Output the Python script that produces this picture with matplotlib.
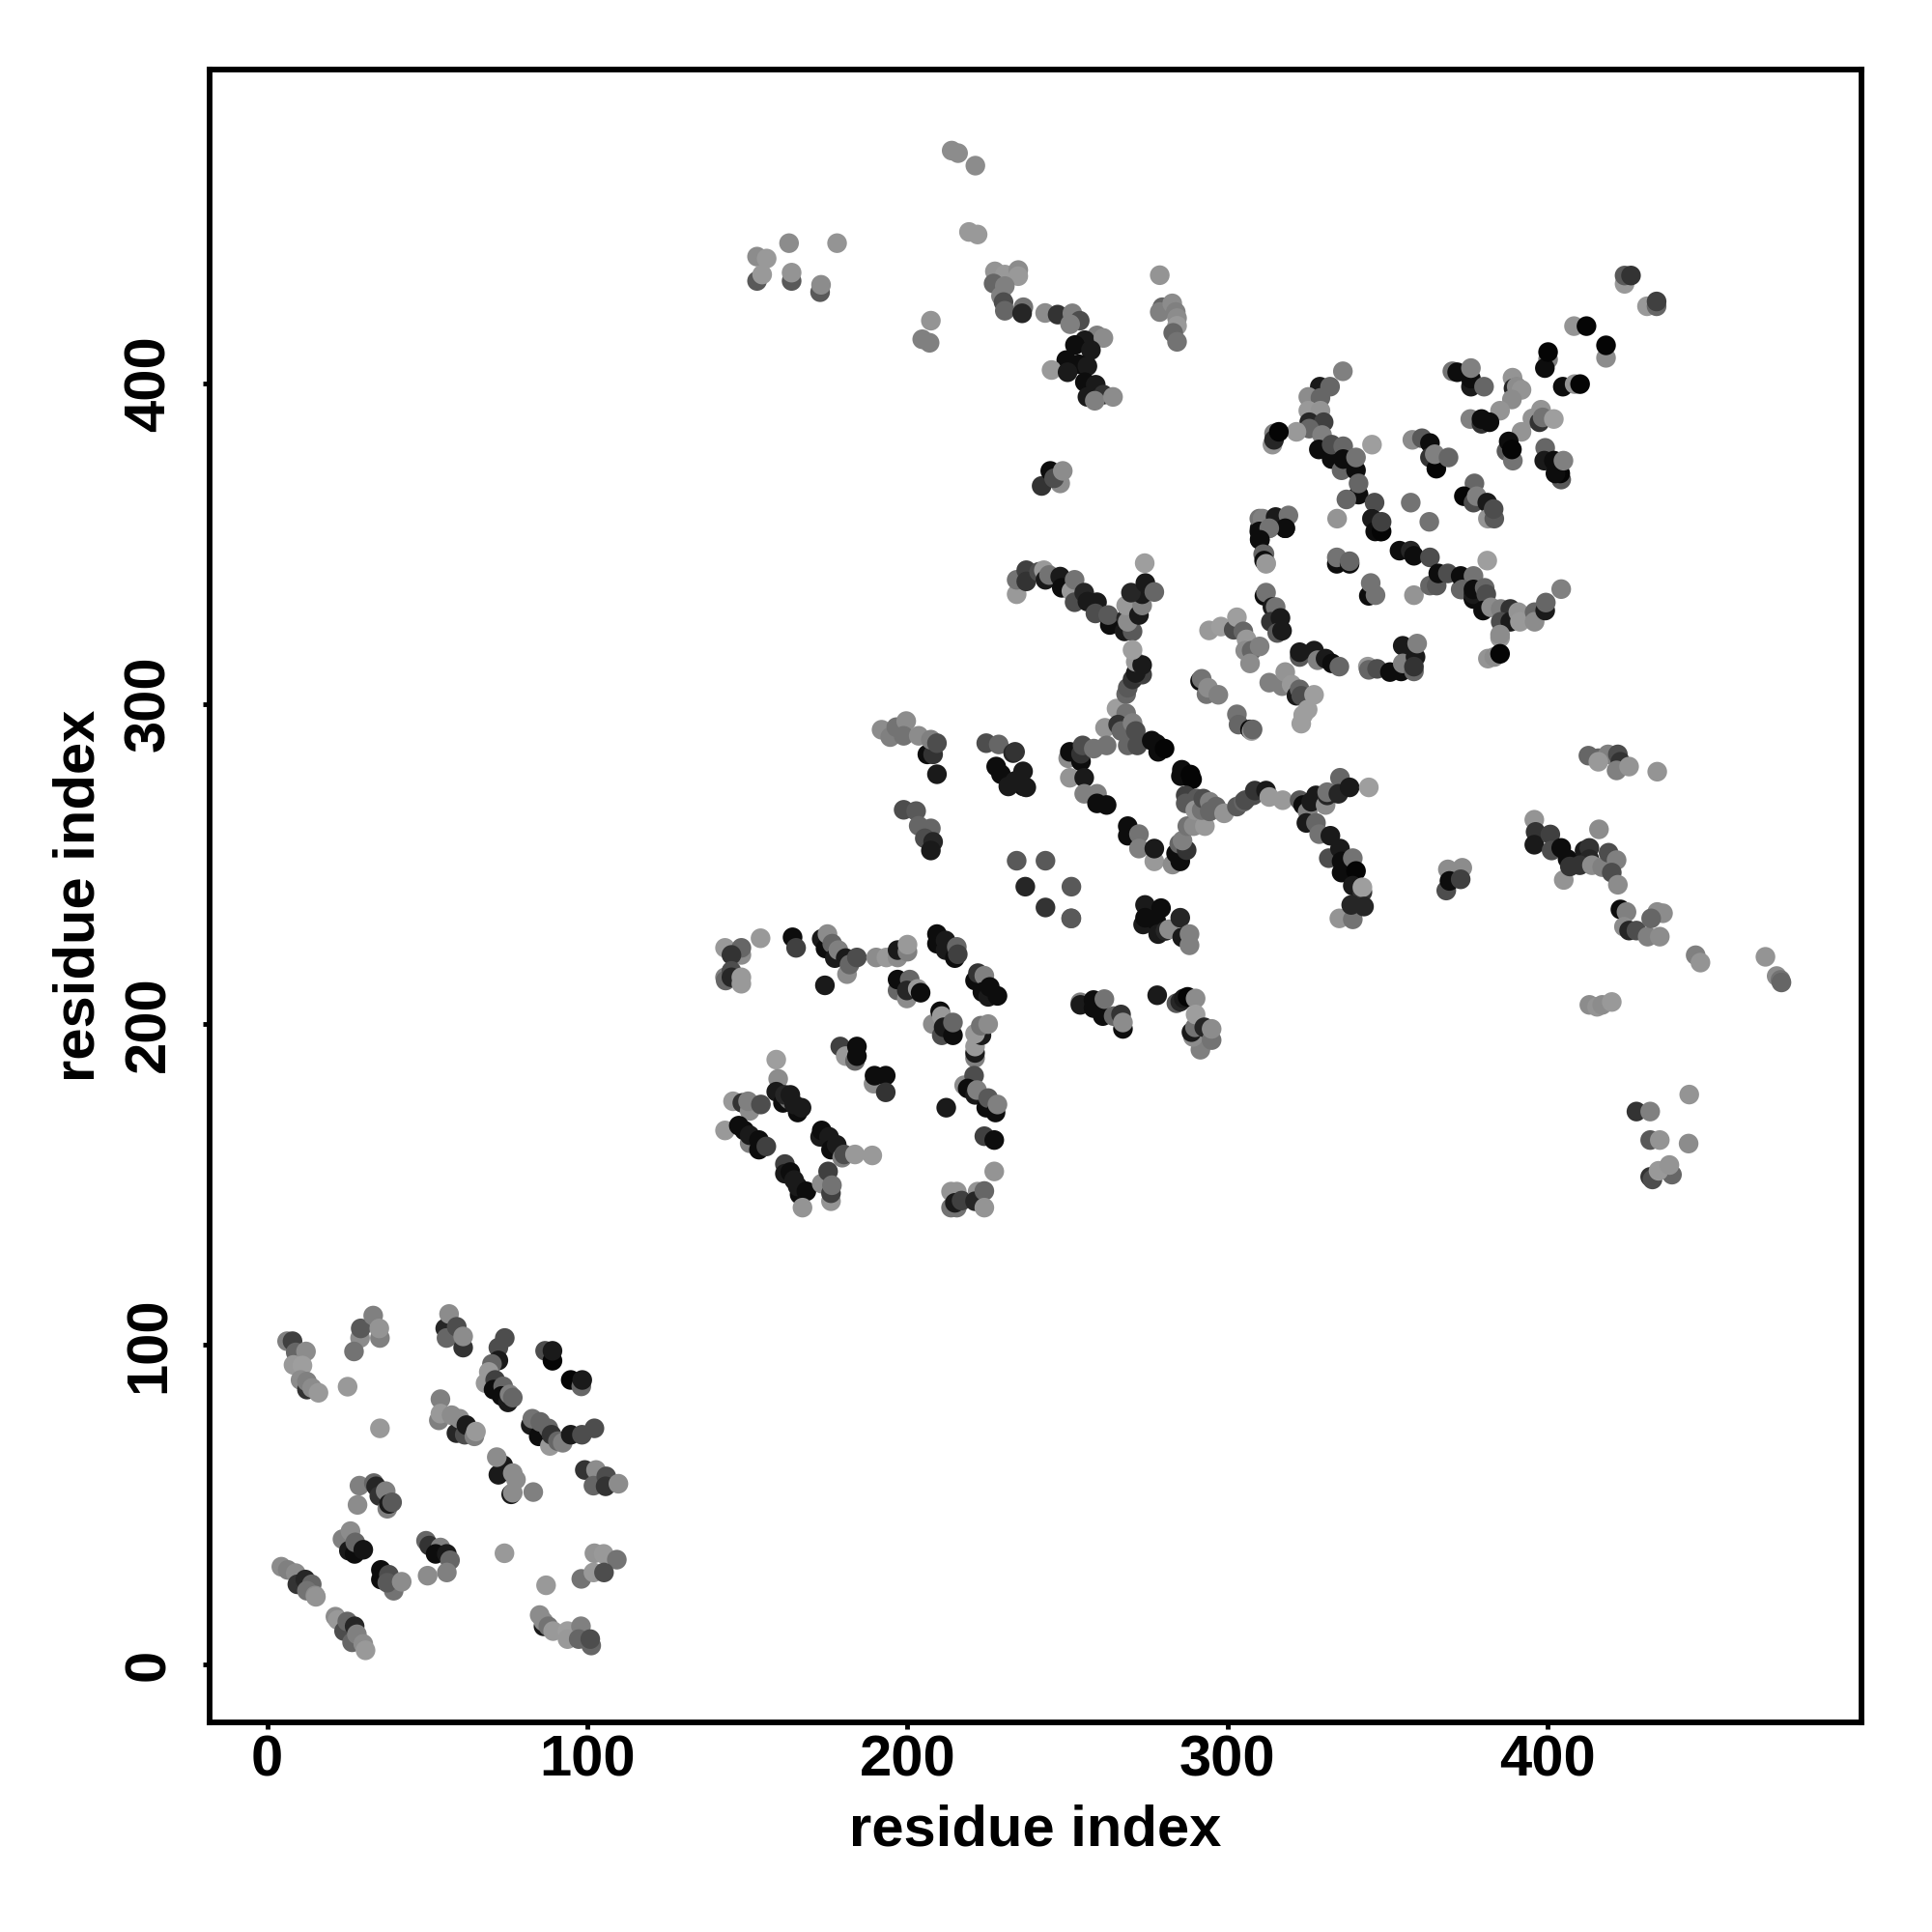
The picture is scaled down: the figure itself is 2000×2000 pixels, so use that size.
import matplotlib
matplotlib.use('Agg')
import matplotlib.pyplot as plt
import numpy as np

plt.rcParams['font.family'] = ['Liberation Sans', 'DejaVu Sans']
plt.rcParams['font.weight'] = 'bold'

#residue pairs in contact as (i, j, grey level)
low_pairs = [
    (6.2,101,.5),(7.9,101,.25),(8.9,97.5,.4),(12.1,97.8,.55),(8.2,93.6,.6),(11,93.4,.62),(10.4,88.9,.55),(12.4,85.9,.2),(12.4,88.4,.5),(14,86.4,.55),(16,84.9,.6),
    (25.1,86.8,.6),(29,102,.55),(29.2,105,.35),(33.1,109,.5),(35.2,102,.5),(35,105,.58),(27.1,97.8,.45),(35.2,73.8,.6),
    (55.6,105,.15),(56,102,.4),(61.2,99,.2),(56.8,109.5,.55),(59.2,105.5,.3),(61.2,102.5,.55),(54.1,82.9,.5),
    (53.6,76.3,.5),(54.1,78.4,.6),(59.1,72.3,.15),(57.6,77.9,.55),(60.1,76.8,.55),(61.7,71.8,.3),(62.2,74.8,.1),(64.7,71.3,.5),(65.2,72.8,.6),
    (74.2,102,.3),(72.2,99,.3),(72.2,95,.1),(70.2,93.9,.4),(69.2,91.4,.6),(68.2,87.9,.6),(71.2,88.9,.25),(70.7,85.9,.05),(73.7,86.9,.4),(73.2,83.9,.05),(75.2,81.9,.1),(75.7,84.4,.5),(76.7,83.4,.4),
    (86.8,98,.3),(89.1,94.9,.02),(89.1,98,.1),(94.8,88.9,.02),(98.1,86.9,.4),(98.4,88.9,.1),
    (82.3,74.8,.1),(82.8,76.8,.45),(84.8,71.3,.05),(85.3,75.8,.4),(88.3,68.3,.6),(87.8,73.8,.4),(88.8,71.8,.2),(90.8,69.8,.4),(92.3,69.3,.5),(94.8,71.8,.1),(98.3,71.8,.3),(102.2,73.8,.3),
    (72.2,59.3,.1),(73.7,62.3,.1),(71.7,64.8,.55),(76.2,53.2,.1),(76.7,59.8,.55),(77.7,57.8,.55),(76.7,53.7,.55),(83.1,53.9,.5),
    (99.2,60.8,.2),(102.7,60.8,.55),(101.9,55.9,.4),(105.9,58.8,.3),(105.7,55.7,.2),(109.7,56.5,.55),
    (28.8,55.9,.5),(28.2,49.9,.55),(33.3,56.7,.4),(34,55.7,.15),(35,52.7,.2),(37,54.2,.5),(37.5,48.7,.5),(38,50.2,.1),(39,50.7,.35),
    (23.5,39.2,.5),(25.5,35.6,.1),(27.3,34.6,.05),(26,41.7,.55),(27.5,38.2,.4),(30,35.9,.08),
    (35.5,29.6,.05),(35.5,26.6,.05),(39.5,23.1,.45),(38,28.1,.3),(37.5,25.6,.35),(42,25.9,.55),
    (49.6,38.7,.4),(50.6,37.2,.2),(54.1,36.6,.5),(52.6,34.6,.05),(56.1,34.6,.1),(57.1,32.6,.4),(50.1,27.8,.55),(56.1,28.8,.5),
    (74.1,34.8,.6),(87.1,24.8,.6),(102.2,34.8,.58),(105.1,34.6,.6),(109.2,32.8,.45),(98.1,26.8,.45),(101.9,28.8,.6),(105.2,28.8,.3),
    (4.4,30.6,.55),(6.4,29.6,.5),(8.9,28.6,.55),(9.4,25.1,.2),(11.9,26.6,.15),(13.9,25.1,.4),(12.4,23.1,.45),(15,21.6,.55),(15.2,21.2,.58),
    (21.3,15,.55),(22,14,.6),(24,10.5,.3),(25,13.5,.4),(27.3,12,.15),(26.5,7,.4),(28,9.5,.5),(30,6.5,.55),(30.7,4.5,.6),
    (86.3,12,.1),(85.1,15.5,.55),(86.3,13.5,.55),(87.8,12,.45),(89.3,10.5,.6),(93.8,10.5,.62),(98,12,.5),(93.8,8,.6),(97.3,8,.4),(101.2,6,.4),(100.9,8,.3),
]

mid_pairs = [
    (143,223.8,.6),(148.1,221.6,.55),(148.1,223.8,.4),(145,221.6,.2),(143,214.6,.5),(143.2,213.6,.4),(145,216.6,.3),(145,214.6,.15),(148.1,214.6,.6),(148.1,212.6,.6),
    (154.1,226.8,.6),(164.1,227.1,.05),(165.2,223.8,.25),(174.2,212.1,.1),
    (173.2,226.6,.1),(174.4,223.6,.05),(175,228.1,.55),(176.5,225.1,.4),(177.3,220.6,.1),(178.4,223.1,.5),(181.1,215.6,.55),(180.7,220.6,.1),(181.9,218.6,.4),(184.2,220.8,.3),
    (190.2,220.8,.55),(193.4,220.8,.6),(196.9,220.8,.55),(196.9,223.1,.1),(200,222.6,.5),(200,224.8,.6),
    (196.9,210.5,.4),(199.8,208,.55),(196.9,213.9,.05),(200.7,213.9,.4),(199.8,210.5,.15),(203.2,211,.6),(204.1,209.8,.05),
    (209.2,225.1,.05),(209.2,228.1,.05),(211.9,223.1,.1),(211.9,226.1,.1),(214.8,220.6,.05),(215.4,224.1,.4),(215.7,221.8,.25),
    (221.1,213.6,.05),(222,215.9,.2),(224,215.1,.5),(223.4,210,.05),(225.2,208.5,.1),(225.7,211.6,.05),(228.1,208.8,.05),
    (207.9,200,.55),(210.2,204,.05),(210.7,202.5,.6),(210.7,196.5,.3),(211.3,199,.1),(214.2,196.5,.05),(214.2,200.5,.4),
    (221.1,189.4,.5),(221.1,191,.1),(221.1,193,.6),(223.1,196.5,.1),(221.1,197,.6),(222.9,199.5,.45),(225.2,200,.55),
    (179,193,.25),(180.7,190,.6),(183.6,188.5,.4),(184.2,193,.05),(184.2,190,.05),(189.4,181.4,.55),(189.7,183.9,.05),(193.2,183.9,.05),(193.2,178.7,.2),
    (159,188.9,.62),(159.6,182.9,.55),(159,178.9,.1),(161.1,175.4,.05),(163,176.5,.45),(161.7,177.9,.15),(163.4,177.9,.1),(165.7,172.4,.05),(164.6,174.9,.1),(166.9,173.9,.1),
    (145.5,175.9,.6),(148.4,175.4,.2),(150.7,172.9,.55),(150.2,175.9,.5),(154.2,174.9,.3),
    (143,166.8,.6),(147.3,168.3,.05),(149,166.8,.05),(150.7,162.8,.5),(150.7,165.3,.1),(153.6,160.8,.05),(153.6,163.8,.05),(155.9,161.8,.25),
    (172.7,164.8,.1),(173.2,166.8,.05),(175.5,164.8,.1),(176.1,160.8,.05),(177.9,162.3,.1),(179.6,158.3,.5),(180.2,159.3,.3),(183.6,159.3,.6),(189,159,.6),
    (161.7,156.3,.25),(161.7,153.3,.1),(163.4,153.8,.05),(164.6,151.3,.1),(166.3,146.8,.05),(165.7,149.3,.1),(168.4,147.8,.05),(167.2,142.7,.58),
    (173.2,150.2,.55),(175.2,154,.25),(176.1,144.7,.58),(176.1,147.2,.25),(176.4,149.7,.45),
    (227.1,154,.58),(224,165,.25),(227.1,163.8,.05),(212.1,173.9,.1),
    (217.7,180.9,.55),(220.8,183.9,.3),(218.8,179.9,.05),(221.1,177.9,.1),(221.7,179.4,.5),(224.6,173.9,.05),(225.2,176.9,.35),(227.5,172.4,.05),(228.1,174.9,.5),
    (213.6,147.7,.58),(215.4,147.7,.58),(213.6,142.7,.45),(215.4,142.7,.45),(214.8,144.2,.1),(216.9,144.9,.25),(221.9,147.7,.58),(221.1,144.7,.15),(224,147.9,.4),(224,142.7,.58),
    (243.1,236.4,.2),(251.1,233,.35),
    (273.6,231.1,.1),(274.2,237.2,.1),(274.2,233.2,.05),(277.7,232.2,.05),(279.2,236.2,.05),(278.3,228.1,.1),(280.6,229.1,.15),(281.7,229.6,.55),(285.2,233.2,.15),(285.8,227.1,.1),(288.1,224.6,.5),(288.1,228.1,.5),
    (254,206.8,.5),(254,206,.1),(258.1,207.5,.05),(258.1,205,.05),(261,202.5,.05),(261.5,207.8,.45),(264.4,202.5,.4),(267.3,198.5,.05),(266.7,203,.2),(267.3,200.5,.55),
    (278,209,.1),(284,206.5,.35),(285.2,207,.15),(286.3,208,.1),(287.5,208.5,.02),(290,208,.55),
    (291.5,192,.5),(289.2,196,.55),(288.7,197.5,.1),(289.8,199,.45),(290,203,.62),(292.7,199,.15),(295,195,.45),(295,198.5,.55),
]

#the two groups above the mid block, near (200, 290) and (205, 260), and the one near (230, 280)
gap_pairs = [
    (191.9,291.9,.55),(194.6,289.6,.5),(196.5,292.7,.45),(199.6,294.6,.55),(198.8,290,.45),(203.5,290,.55),(206.2,284.2,.05),(208,284.2,.2),(207.3,288.8,.5),(209.2,287.7,.3),(209.2,278,.1),
    (198.8,266.9,.3),(202.7,266.5,.35),(203.5,261.9,.4),(207.3,261.1,.4),(205.4,258,.3),(208,256.9,.15),(207.3,254.2,.1),
    (224.6,287.7,.3),(228.5,287.3,.4),(233,284.6,.15),(227.7,280.4,.05),(229.2,278,.05),(236.2,274.2,.05),(231.5,274.2,.1),
]

centre_pairs = [
    (234.1,334.2,.6),(234.1,338.7,.45),(237.1,341.7,.25),(237.1,338.2,.2),(241.1,341.2,.3),(242.6,341.7,.6),(243.1,338.7,.1),(244.2,340.2,.45),(247.7,339.7,.1),(248.2,336.2,.05),(251.2,335.2,.6),(252.2,338.7,.45),
    (252.2,331.7,.3),(255.2,334.7,.15),(256.2,331.9,.1),(259.2,331.7,.1),(258.7,328.2,.3),(263.2,324.6,.05),(262.7,327.7,.35),(268.3,326.7,.15),(267.8,322.6,.1),(270.3,322.6,.35),(268.8,325.6,.55),(268.3,330.7,.6),
    (272.3,327.7,.1),(273.3,330.7,.5),(273.3,334.2,.1),(269.8,334.7,.15),(274.3,337.7,.1),(277.1,334.9,.4),(274.1,343.9,.62),
    (310,354.8,.1),(313,354.8,.4),(318,354.8,.1),(310,351.3,.05),(311.5,346.8,.4),(312,343.9,.62),
    (334.1,343.7,.05),(334.1,345.7,.45),(338.1,343.7,.05),(338.1,344.5,.4),(344.1,333.7,.05),(344.7,337.7,.45),(346.2,333.9,.45),(358.2,333.9,.58),(347.7,355.8,.2),(347.7,353.8,.05),
    (353.7,347.8,.05),(357.2,347.8,.15),(358.2,346.2,.05),(363.2,345.7,.3),(363.2,336.9,.4),(365.3,336.9,.35),(365.8,340.7,.05),(368.8,340.7,.3),(372.8,335.7,.4),(372.8,339.9,.05),(376.3,334.2,.05),(376.8,339.9,.45),
    (311.5,333.7,.05),(312,334.7,.45),(314,330.2,.1),(315,330.2,.45),(313.5,325.6,.2),(316.5,326.8,.1),(315.5,322.1,.35),(317,322.8,.1),
    (294.2,322.9,.6),(297.9,324.1,.62),(301.9,323.1,.3),(302.9,327,.62),(304.9,322.6,.4),(305.9,320.1,.6),(305.5,316.6,.55),(307.5,316.6,.4),(310,317.9,.5),(307,312.6,.55),
    (291.4,307.1,.05),(291.9,307.8,.45),(293.4,303,.45),(293.9,305,.55),(297.1,302.8,.5),(302.9,296.7,.45),(303.4,293.5,.4),(307,292,.05),(307.5,291.5,.62),(307.8,292,.4),
    (313,306.6,.5),(317,305.5,.5),(318,309.9,.58),(320,306,.6),(321.5,302.5,.1),(322.5,304.5,.4),(323,302.5,.3),(327,302.8,.62),(325,298.2,.62),(323.6,296.5,.62),(323,293.8,.62),
    (322.5,314.6,.35),(322.5,316.1,.1),(327,316.6,.1),(328.1,313.6,.5),(330.6,314.1,.1),(332.6,312.6,.05),(334.9,311.6,.4),
    (343.8,311.6,.6),(344.1,310.6,.4),(346.7,310.9,.3),(350.7,309.9,.05),(354.2,310.1,.05),(354.7,318.1,.1),(354.7,312.6,.5),(358.7,314.6,.1),(358.2,310.1,.4),(358.2,311.6,.2),(359.2,318.8,.5),
    (265.3,298.5,.62),(268.3,297,.45),(268.3,303,.4),(268.8,305,.35),(270.3,307.6,.2),(273.3,309.1,.25),(271.3,309.6,.1),(271.3,313.1,.6),(273.3,312.1,.1),(270.3,316.8,.62),
    (261.7,292.5,.58),(262.2,287,.45),(265.8,293.5,.2),(266.8,291.5,.4),(270.3,294,.5),(268.8,287,.4),(271.3,291.5,.3),(271.8,287,.3),
    (276.3,288.5,.05),(277.8,287.5,.05),(278.3,285,.05),(280.3,286,.02),
    (250.2,283,.55),(250.7,285,.05),(254.2,282,.05),(254.2,284.4,.2),(254.7,287,.3),(258.2,286,.45),
    (250.7,276.9,.58),(255.2,276.9,.1),(255.2,271.9,.5),(259.2,271.9,.5),(259.2,268.9,.05),(262.2,268.4,.05),
    (268.8,261.8,.05),(268.8,258.8,.05),(272.3,259.3,.45),(272.3,254.8,.5),(277.1,250.8,.6),(277.1,254.8,.1),
    (282.8,249.8,.55),(283.9,253.3,.05),(285.2,250.8,.05),(284.9,256.3,.4),(287.2,254.3,.2),(285.9,257.3,.5),(287.4,261.8,.45),(289.4,261.8,.55),(292.9,261.8,.6),
    (285.7,279.4,.05),(285.4,277.4,.05),(288.4,277.9,.02),(288.9,276.4,.02),
    (286.9,271.4,.25),(286.9,268.9,.35),(290.4,270.4,.35),(289.9,266.8,.58),(291.9,266.8,.45),(292.4,270.4,.3),(294.4,269.4,.5),(294.4,266.4,.4),(296.4,267.9,.4),(298.9,265.8,.58),
    (302.9,267.9,.35),(305,269.4,.4),(305.5,269.9,.3),(308,271.4,.3),(308.5,272.9,.2),(312,272.9,.1),(313,270.9,.6),(317.2,269.9,.6),
    (322.5,269.9,.35),(323.6,268.4,.05),(325,266.3,.5),(326.1,269.4,.1),(327.6,271.4,.1),(330.6,268.4,.55),(331.1,271.4,.15),(331.1,272.4,.45),(335.1,276.9,.4),(334.6,271.9,.15),(338.1,273.9,.1),(344.1,273.9,.62),
    (324.6,262.8,.1),(327.6,262.8,.4),(328.6,259.3,.45),(332.1,258.8,.1),(331.6,251.8,.3),(335.1,254.8,.1),(335.6,250.8,.05),(335.6,247.3,.05),(339.1,251.8,.45),(340.1,247.8,.02),(339.1,243.2,.1),(342.1,241.2,.2),(342.1,242.7,.62),
    (334.9,233,.58),(339.1,232.7,.45),(338.6,237.2,.15),(342.6,236.7,.15),
    (368.8,248.3,.55),(373.3,248.8,.55),(368.3,241.7,.3),(369.3,244.7,.05),(372.8,245.2,.25),
    (236.8,242.9,.15),(243.1,251,.35),(234.1,251,.35),(251.2,242.9,.35),(251.2,233,.35),
    (233.6,285,.2),(233.6,275.9,.1),(236.1,278.9,.1),(237.1,273.9,.1),
]

upper_pairs = [
    (424,431.1,.6),(424,433.7,.35),(426,433.7,.2),(431,424.1,.6),(434,424.1,.4),(434,425.6,.25),(408.2,417.9,.58),(412.1,417.9,.02),(418.2,408,.55),(418.2,411.9,.02),
    (400.1,407.5,.5),(399.1,404.8,.05),(400.1,409.8,.02),(404.7,399,.05),(408.4,399.8,.58),(410.1,399.8,.02),
    (370.2,403.8,.45),(371.7,403.5,.05),(376,399,.1),(376,401.5,.05),(376,404.8,.5),(380.1,399,.4),
    (389,401.8,.58),(389.3,398.5,.15),(390.3,399,.55),(391.8,398,.58),(388.8,395,.55),(385.1,391.5,.58),(375.8,388.9,.5),(379.3,387.4,.2),(379.3,388.9,.05),(381.8,387.9,.05),
    (395.2,389.1,.58),(397.4,387.9,.2),(397.9,391.8,.58),(398.4,389.4,.45),(401.9,388.9,.62),(391.8,384.9,.58),
    (387.1,378.9,.35),(389.1,375.9,.45),(387.8,381.9,.05),(388.8,379.4,.02),
    (399.2,379.9,.4),(398.9,375.9,.1),(404.2,370,.35),(403.9,371.9,.02),(402.4,371.9,.05),(401.9,375.9,.05),(404.9,375.9,.5),
    (336,403.8,.5),(328.8,399,.1),(332,399,.4),(325.2,395.8,.55),(329,395.5,.4),(325.2,391.5,.6),(329,391.5,.58),(325.5,387.9,.15),(330,387.9,.25),(325.5,385.9,.4),(321.5,384.9,.6),(329.5,383.9,.5),
    (314,380.9,.58),(314.5,384.4,.5),(314.5,382.4,.15),(316,384.9,.02),
    (328.5,379.4,.05),(332.5,376.4,.05),(332.5,380.9,.3),(336.1,380.4,.4),(335.6,372.9,.4),(336.1,376.4,.05),(340.1,372.9,.05),(340.1,376.9,.45),(340.9,365.3,.05),(340.9,368.8,.4),(337.1,363.8,.4),(345.9,362.8,.3),
    (345.1,357.8,.6),(345.1,357.8,.1),(346.1,353.8,.05),(348.1,353.8,.02),(348.1,356.8,.25),(334.2,357.8,.58),(345.1,380.9,.62),(357.2,362.8,.45),(363,356.8,.45),
    (357.7,382.4,.55),(360.7,382.9,.35),(363.2,381.4,.05),(363.2,376.9,.2),(365.2,373.4,.02),(364.7,377.9,.5),(369,376.9,.4),
    (377.1,368.8,.4),(373.8,364.8,.02),(376.8,362.8,.3),(377.8,364.8,.5),(381.1,362.8,.1),(381.3,357.8,.58),(383.3,357.8,.35),(383.1,360.8,.3),
    (309.9,357.8,.45),(310.9,357.8,.5),(315,358.3,.1),(319,358.8,.45),(318,354.8,.05),(309.9,353.8,.05),(313,354.8,.45),(310.1,351.2,.05),(311.1,346.7,.4),(311.4,344.7,.05),(312,343.7,.6),
    (381.1,344.7,.62),(373.3,335.7,.4),(376.8,332.7,.05),(376.8,334.2,.1),(376.8,335.7,.05),(380.3,336.2,.4),(380.8,334.2,.3),
    (379.8,329.1,.05),(382.3,330.1,.55),(385.3,329.6,.5),(388.3,329.6,.2),(385.3,325.6,.3),(388.3,325.6,.1),(390.8,328.6,.58),(391.3,325.6,.6),(395.9,328.6,.4),(395.9,325.6,.55),(399.2,329.1,.1),(399.4,331.6,.4),(404.2,335.8,.5),
    (385.1,320.6,.6),(385.1,321.6,.55),(381.3,314.1,.58),(383.3,314.6,.55),(385.1,315.6,.02),
]

top_pairs = [
    (213.8,472.7,.55),(215.8,471.9,.55),(221.2,468,.55),(219.2,447.3,.6),(221.9,446.5,.6),
    (153,432,.35),(153,439.6,.55),(154.6,434,.6),(156,439,.6),(163.8,432,.35),(163,443.8,.55),(163.8,434.6,.58),(178,443.8,.58),(172.7,428.5,.35),(173,430.8,.55),
    (227.3,435,.58),(230.4,434,.6),(234.6,435.4,.55),(234.6,433.5,.6),(226.9,431.2,.4),(230.4,430.4,.5),(229.2,427.3,.5),(230,425.4,.3),(230.4,422.7,.4),(236.2,423.8,.45),(235.8,421.9,.15),
    (243,422,.55),(246.9,421.5,.2),(251.5,421.9,.5),(253.8,419.6,.3),(250.8,418.5,.5),(259.2,415,.5),(255.4,413.5,.1),(261.2,414.2,.55),(252.3,412,.05),(257.3,410.4,.1),
    (249.6,407.3,.05),(253.5,406,.05),(256.2,405.4,.1),(245,404.2,.6),(250,403.5,.1),(255.4,400.4,.05),(258.8,399.6,.1),(261.2,396.5,.2),(256.2,395.8,.1),(258.5,394.6,.5),(264.2,395.8,.55),
    (207.3,419.6,.58),(204.6,413.8,.5),(206.9,412.7,.5),
    (278.8,433.8,.58),(279.6,423.8,.4),(278.8,422.3,.5),(282.7,425,.55),(283.8,422.3,.5),(284.2,420.4,.55),(284.2,418,.6),(283,415.8,.4),(284.2,413,.45),
    (241.9,368,.2),(244.6,372.7,.05),(247.7,368.8,.55),(245.8,370.4,.3),(248.5,372.7,.55),
]

right_pairs = [
    (412.7,283.8,.4),(415.8,283,.4),(418.8,284.2,.5),(421.9,284.2,.3),(415.8,281.9,.6),(422.7,281.9,.2),(421.5,279.2,.5),(425.4,280.4,.58),(434.2,278.8,.58),
    (395.8,263.8,.58),(396.2,260,.2),(395.8,256,.1),(400.8,259.2,.25),(401.2,254.2,.3),(405,245,.58),(404.2,255,.05),(406.2,251.5,.05),(406.9,249.2,.2),(416,260.8,.55),(411.5,254.2,.1),(413,255,.2),(413,251.5,.15),(410,249.6,.2),
    (413.8,249.6,.55),(417,249,.5),(419,253.5,.3),(421.5,251.2,.5),(420,247.3,.3),(421.9,243.5,.55),
    (422.7,235.8,.05),(424.6,235,.5),(434.2,235,.55),(436,234.6,.55),(423.8,230.4,.55),(425.4,229.2,.15),(427.7,229.2,.3),(431.2,227.3,.5),(435,227.3,.55),(432.3,233,.4),
    (446.2,221.5,.5),(447.7,219.2,.58),(468,221,.58),(471.5,215,.55),(472.7,213.8,.45),(473,213,.4),
    (413,206,.55),(415.4,205.4,.58),(417,206,.55),(420,206.9,.6),
    (427.7,172.7,.2),(432,172.7,.5),(444.2,178,.58),(432,163.8,.35),(435,163.8,.58),(444,162.7,.55),(432,152.3,.2),(432.7,151.5,.3),(438.8,153,.4),(434.6,154.2,.6),(438,156,.58),
]

tick_values = [0, 100, 200, 300, 400]

pairs = np.array(low_pairs + mid_pairs + gap_pairs + centre_pairs + upper_pairs + top_pairs + right_pairs)
grey = [str(g) for g in pairs[:,2]]

fig = plt.figure(figsize=(20,20), dpi=100)
ax = fig.add_axes([217/2000, 1-1783/2000, 1710/2000, 1711/2000])
ax.scatter(pairs[:,0], pairs[:,1], s=215, c=grey, linewidths=0, clip_on=False)

ax.set_xlim(-18, 498)
ax.set_ylim(-18, 498)
ax.set_xticks(tick_values)
ax.set_yticks(tick_values)
ax.tick_params(axis='both', length=5, width=3.5, labelsize=43)
ax.tick_params(axis='x', pad=4)
ax.tick_params(axis='y', pad=20)
plt.setp(ax.get_yticklabels(), rotation=90, va='center')
for s in ax.spines.values():
    s.set_linewidth(4.2)
ax.set_xlabel('residue index', fontsize=43, fontweight='bold', labelpad=12)
ax.set_ylabel('residue index', fontsize=43, fontweight='bold', labelpad=13)

plt.savefig('out.png')
